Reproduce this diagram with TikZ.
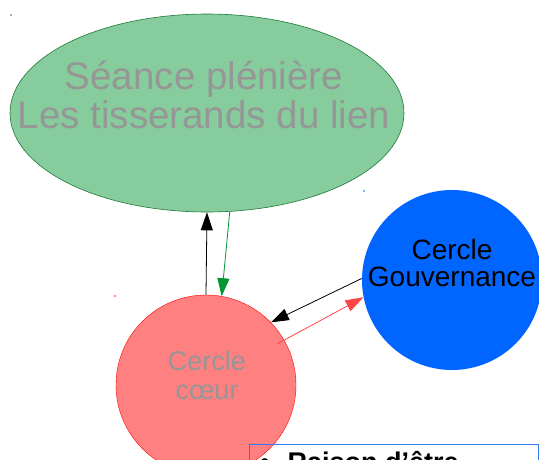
\documentclass[tikz,border=0pt]{standalone}
\usepackage{fontspec}
\setmainfont{Liberation Sans}
\usetikzlibrary{shapes.geometric,arrows.meta,calc}
\definecolor{plengreen}{RGB}{134,204,157}
\definecolor{plenborder}{RGB}{30,120,55}
\definecolor{coeurred}{RGB}{255,128,128}
\definecolor{govblue}{RGB}{0,102,255}
\definecolor{txtgrey}{RGB}{150,150,150}
\definecolor{arrgreen}{RGB}{0,150,50}
\definecolor{arrred}{RGB}{255,70,70}
\definecolor{boxblue}{RGB}{50,120,240}
\begin{document}
\begin{tikzpicture}[x=1pt,y=-1pt,line join=round,
    fleche/.style={-{Triangle[length=18pt,width=12pt]},line width=0.8pt},
    cercle/.style={circle,minimum size=180pt,inner sep=0pt}]
  \useasboundingbox (0,0) rectangle (539,459);
  \clip (0,0) rectangle (539,459);
  % formes
  \node[ellipse,fill=plengreen,draw=plenborder,line width=0.6pt,minimum width=394pt,minimum height=198pt,inner sep=0pt] (plen) at (207,113) {};
  \node[cercle,fill=coeurred,draw=red] (coeur) at (206,385) {};
  \node[cercle,fill=govblue] (gouv) at (452,280) {};
  \node[text=txtgrey,align=center,inner sep=0pt,font=\fontsize{38.5}{39}\selectfont] (plentxt) at (204,95) {Séance plénière\\Les tisserands du lien};
  \node[text=txtgrey,align=center,inner sep=0pt,font=\fontsize{27}{29}\selectfont] (coeurtxt) at (207,375) {Cercle\\cœur};
  \node[align=center,inner sep=0pt,font=\fontsize{28}{27}\selectfont] (gouvtxt) at (452,263) {Cercle\\Gouvernance};
  % petits points
  \fill[plenborder] (11,15) circle (0.8);
  \fill[govblue] (364,191) circle (0.8);
  \fill[red] (115,296) circle (0.8);
  % fleches
  \draw[fleche] (coeur.90) -- (plen.-90);
  \draw[fleche,arrgreen] (plen.-77) -- (coeur.80);
  \draw[fleche] (gouv.179) -- (coeur.44);
  \draw[fleche,arrred] ($(coeur.center)!0.91!(coeur.30)$) -- (gouv.191);
  % encadre
  \draw[boxblue,line width=1pt] (249,444) rectangle (538,520);
  \node[anchor=base west,inner sep=0pt,font=\fontsize{27}{30}\selectfont\bfseries] (raison) at (260,471) {•\hspace{18pt}Raison d'être};
\end{tikzpicture}
\end{document}
